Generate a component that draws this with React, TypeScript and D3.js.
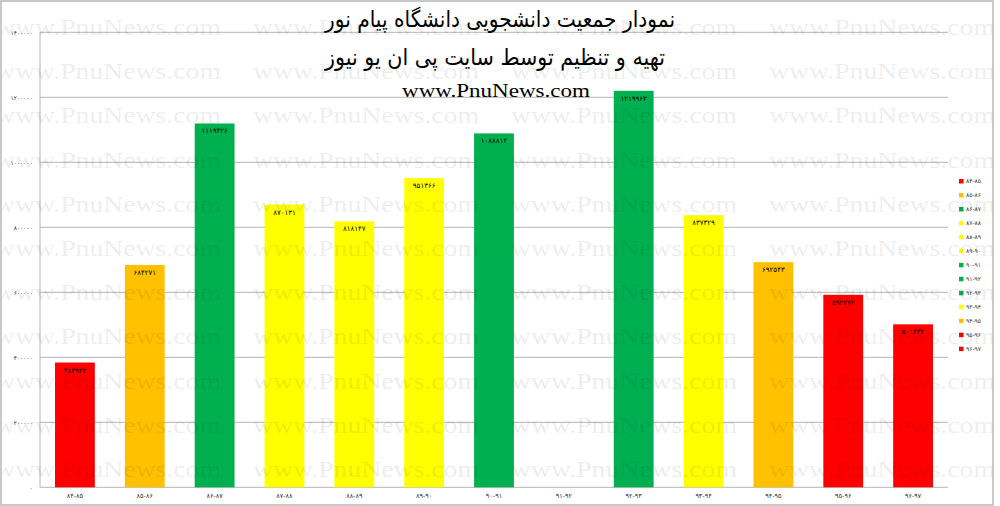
import React from "react";
import * as d3 from "d3";

const categories = ["۸۴-۸۵", "۸۵-۸۶", "۸۶-۸۷", "۸۷-۸۸", "۸۸-۸۹", "۸۹-۹۰", "۹۰-۹۱", "۹۱-۹۲", "۹۲-۹۳", "۹۳-۹۴", "۹۴-۹۵", "۹۵-۹۶", "۹۶-۹۷"];
const values: (number | null)[] = [383922, 684271, 1119426, 870131, 818147, 951366, 1088812, null, 1219963, 837329, 692543, 592272, 501432];
const barColors = ["#FF0000", "#FFC000", "#00B050", "#FFFF00", "#FFFF00", "#FFFF00", "#00B050", "#00B050", "#00B050", "#FFFF00", "#FFC000", "#FF0000", "#FF0000"];
const yTicks = [0, 200000, 400000, 600000, 800000, 1000000, 1200000, 1400000];
const titleLines = ["نمودار جمعیت دانشجویی دانشگاه پیام نور", "تهیه و تنظیم توسط سایت پی ان یو نیوز"];
const siteText = "www.PnuNews.com";

const W = 1000, H = 506;
const plotL = 40, plotR = 948, plotT = 32.3, plotB = 487.3;

const fa = (n: number) => String(n).replace(/\d/g, (d) => "۰۱۲۳۴۵۶۷۸۹"[+d]);

export default function App() {
  const x = d3.scaleBand<string>().domain(categories).range([plotL, plotR]).paddingInner(0.43).paddingOuter(0.215);
  const y = d3.scaleLinear().domain([0, 1400000]).range([plotB, plotT]);
  const bw = x.bandwidth();

  const wmRows = d3.range(11).map((i) => 35 + 44.2 * i);
  const wmCols = [-5, 253, 511, 769];

  const arabicFont = "'DejaVu Sans', sans-serif";

  return (
    <svg width={W} height={H} style={{ position: "fixed", left: 0, top: 0, background: "#fff" }}>
      <defs>
        <clipPath id="inner">
          <rect x={1.5} y={1.5} width={991} height={503} />
        </clipPath>
      </defs>
      <rect x={0} y={0} width={W} height={H} fill="#fff" />
      {yTicks.map((t) => (
        <line key={t} x1={plotL} x2={plotR} y1={y(t)} y2={y(t)} stroke="#b4b4b4" strokeWidth={1} />
      ))}
      <line x1={plotL} x2={plotL} y1={plotT} y2={plotB} stroke="#b4b4b4" strokeWidth={1} />
      {categories.map((c, i) => {
        const v = values[i];
        if (v == null) return null;
        return <rect key={c} x={x(c)} y={y(v)} width={bw} height={plotB - y(v)} fill={barColors[i]} />;
      })}
      {categories.map((c, i) => {
        const v = values[i];
        if (v == null) return null;
        return (
          <text key={c} x={(x(c) as number) + bw / 2} y={y(v) + 10} textAnchor="middle" fontSize={7} fontFamily={arabicFont} fill="#000">
            {fa(v)}
          </text>
        );
      })}
      {yTicks.map((t) => (
        <text key={t} x={33} y={y(t) + 2.5} textAnchor="end" fontSize={6} fontFamily={arabicFont} fill="#333">
          {fa(t)}
        </text>
      ))}
      {categories.map((c) => (
        <text key={c} x={(x(c) as number) + bw / 2} y={498} textAnchor="middle" fontSize={6.5} fontFamily={arabicFont} fill="#333">
          {c}
        </text>
      ))}
      {categories.map((c, i) => (
        <g key={c} transform={`translate(959, ${181 + i * 13.97})`}>
          <rect x={0} y={-2} width={4.5} height={4.5} fill={barColors[i]} />
          <text x={7} y={2.3} fontSize={6} fontFamily={arabicFont} fill="#333">
            {c}
          </text>
        </g>
      ))}
      <g clipPath="url(#inner)" opacity={0.065}>
        {wmRows.map((ry) =>
          wmCols.map((cx) => (
            <text key={`${ry}-${cx}`} x={cx} y={ry} fontSize={24} fontFamily="'Liberation Serif', serif" fill="#000" textLength={226} lengthAdjust="spacingAndGlyphs">
              {siteText}
            </text>
          ))
        )}
      </g>
      <text x={500} y={27} textAnchor="middle" fontSize={23} fontFamily={arabicFont} fill="#000" textLength={350} lengthAdjust="spacingAndGlyphs">
        {titleLines[0]}
      </text>
      <text x={495} y={65} textAnchor="middle" fontSize={23} fontFamily={arabicFont} fill="#000" textLength={340} lengthAdjust="spacingAndGlyphs">
        {titleLines[1]}
      </text>
      <text x={496} y={97} textAnchor="middle" fontSize={19} fontFamily="'Liberation Serif', serif" fill="#000" textLength={188} lengthAdjust="spacingAndGlyphs">
        {siteText}
      </text>
      <rect x={1} y={1} width={992} height={504} fill="none" stroke="#b8b8b8" strokeWidth={1.5} />
    </svg>
  );
}
